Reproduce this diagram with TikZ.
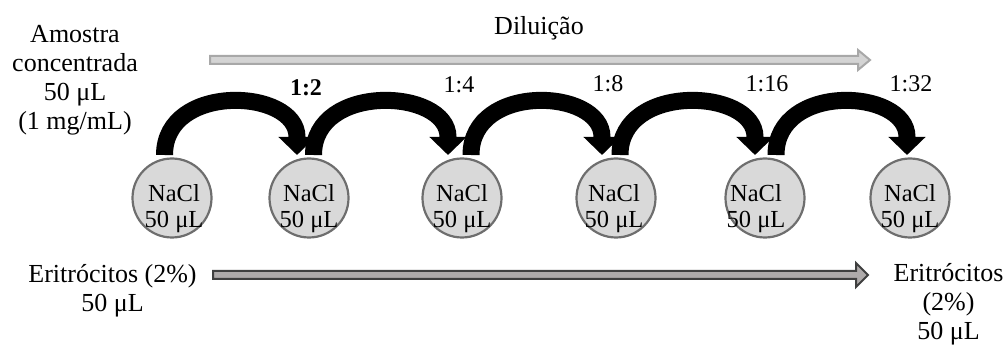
\documentclass[tikz,border=0pt]{standalone}
\usepackage{fontspec}
\setmainfont{Liberation Serif}
\usetikzlibrary{arrows.meta,calc}
\definecolor{cellfill}{HTML}{D9D9D9}
\definecolor{celledge}{HTML}{6E6E6E}
\definecolor{dilfill}{HTML}{D4D4D4}
\definecolor{diledge}{HTML}{A8A8A8}
\definecolor{rbcfill}{HTML}{AEAAAA}
\definecolor{rbcedge}{HTML}{3F3F3F}
\begin{document}
\begin{tikzpicture}[x=1pt,y=-1pt,
  well/.style={circle, draw=celledge, line width=2.2pt, fill=cellfill,
    minimum size=79pt, inner sep=0pt},
  welltxt/.style={anchor=base, align=center, inner sep=0pt,
    font=\fontsize{24.5}{26}\selectfont},
  plain/.style={anchor=base, align=center, inner sep=0pt,
    font=\fontsize{26}{29.3}\selectfont},
  ratio/.style={anchor=base, inner sep=0pt, font=\fontsize{24}{26}\selectfont},
  transfer/.style={line width=17pt, draw=black,
    -{Triangle[length=18pt,width=36pt]}},
  dilarrow/.style={fill=dilfill, draw=diledge, line width=2pt, line join=miter},
  rbcarrow/.style={fill=rbcfill, draw=rbcedge, line width=2pt, line join=miter}
]
\useasboundingbox (0,0) rectangle (1007,347);

% sample and dilution heading (base = baseline of the last line)
\node[plain] (sample) at (75,130) {Amostra\\concentrada\\50 μL\\(1 mg/mL)};
\node[plain] (dil) at (539,35) {Diluição};

% dilution direction arrow
\coordinate (d0) at (210,60);
\coordinate (d1) at (870,60);
\draw[dilarrow] ($(d0)+(0,-4)$) -- ($(d1)+(-12,-4)$) -- ($(d1)+(-12,-10)$)
  -- (d1) -- ($(d1)+(-12,10)$) -- ($(d1)+(-12,4)$) -- ($(d0)+(0,4)$) -- cycle;

% NaCl wells
\node[well] (c1) at (172,198) {};
\node[well] (c2) at (309,198) {};
\node[well] (c3) at (462,198) {};
\node[well] (c4) at (616,198) {};
\node[well] (c5) at (765,198) {};
\node[well] (c6) at (910,198) {};
\node[welltxt] (n1) at (174,228) {NaCl\\50 μL};
\node[welltxt] (n2) at (309,228) {NaCl\\50 μL};
\node[welltxt] (n3) at (462,228) {NaCl\\50 μL};
\node[welltxt] (n4) at (614,228) {NaCl\\50 μL};
\node[welltxt] (n5) at (756,228) {NaCl\\50 μL};
\node[welltxt] (n6) at (910,228) {NaCl\\50 μL};

% transfer arrows between wells
\coordinate (t1) at (164.5,155); \coordinate (h1) at (297,155);
\coordinate (t2) at (313.5,155); \coordinate (h2) at (448,155);
\coordinate (t3) at (471,155);   \coordinate (h3) at (602,155);
\coordinate (t4) at (620,155);   \coordinate (h4) at (755,155);
\coordinate (t5) at (776,155);   \coordinate (h5) at (907,155);
\foreach \i in {1,...,5}{
  \draw[transfer] (t\i)
    .. controls ($(t\i)+(0,-72.7)$) and ($(h\i)+(0,-66.7)$) .. ($(h\i)+(0,-18)$)
    -- (h\i);
}

% dilution ratios
\node[ratio, font=\fontsize{24}{26}\selectfont\bfseries] (r1) at (306,96) {1:2};
\node[ratio] (r2) at (459,93) {1:4};
\node[ratio] (r3) at (608,92) {1:8};
\node[ratio] (r4) at (767,92) {1:16};
\node[ratio] (r5) at (911,92) {1:32};

% erythrocytes
\node[plain] (e0) at (112.5,311.5) {Eritrócitos (2\%)\\50 μL};
\node[plain] (e1) at (948.5,340) {Eritrócitos\\(2\%)\\50 μL};
\coordinate (b0) at (213,275);
\coordinate (b1) at (868,275);
\draw[rbcarrow] ($(b0)+(0,-4)$) -- ($(b1)+(-12,-4)$) -- ($(b1)+(-12,-12)$)
  -- (b1) -- ($(b1)+(-12,12)$) -- ($(b1)+(-12,4)$) -- ($(b0)+(0,4)$) -- cycle;
\end{tikzpicture}
\end{document}
